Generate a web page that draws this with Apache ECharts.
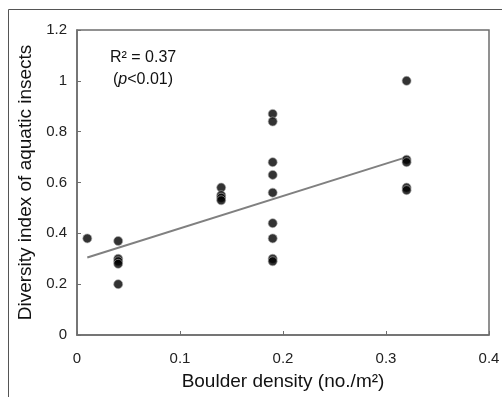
<!DOCTYPE html>
<html><head><meta charset="utf-8">
<script src="https://cdn.jsdelivr.net/npm/echarts@6/dist/echarts.min.js"></script>
<style>html,body{margin:0;padding:0;background:#fff}#c{width:502px;height:397px}</style>
</head><body><div id="c"></div>
<script>
var xTicks = [0, 0.1, 0.2, 0.3, 0.4];
var yTicks = [0, 0.2, 0.4, 0.6, 0.8, 1, 1.2];
var density = [0.01, 0.04, 0.04, 0.04, 0.04, 0.04, 0.14, 0.14, 0.14, 0.14, 0.19, 0.19, 0.19, 0.19, 0.19, 0.19, 0.19, 0.19, 0.19, 0.32, 0.32, 0.32, 0.32, 0.32];
var diversity = [0.38, 0.37, 0.30, 0.29, 0.28, 0.20, 0.58, 0.55, 0.54, 0.53, 0.87, 0.84, 0.68, 0.63, 0.56, 0.44, 0.38, 0.30, 0.29, 1.00, 0.69, 0.68, 0.58, 0.57];
var trendX = [0.01, 0.32];
var trendY = [0.305, 0.70];

var pts = density.map(function (x, i) { return [x, diversity[i]]; });
var trend = trendX.map(function (x, i) { return [x, trendY[i]]; });

var chart = echarts.init(document.getElementById('c'));
var font = 'Liberation Sans, Arial, sans-serif';
chart.setOption({
  animation: false,
  grid: { left: 77, right: 13, top: 30, bottom: 62, outerBoundsMode: 'none', containLabel: false, show: true, borderColor: '#6e6e6e', borderWidth: 1.5, backgroundColor: 'transparent' },
  xAxis: {
    type: 'value', min: 0, max: 0.4, interval: 0.1,
    axisLine: { show: true, onZero: false, lineStyle: { color: '#6e6e6e', width: 1.5 } },
    axisTick: { show: true, inside: true, length: 4, lineStyle: { color: '#6e6e6e' } },
    splitLine: { show: false },
    axisLabel: { color: '#222', fontFamily: font, fontSize: 15, margin: 16, formatter: function (v) { return String(v); } },
    name: 'Boulder density (no./m²)', nameLocation: 'middle', nameGap: 37,
    nameTextStyle: { color: '#111', fontFamily: font, fontSize: 19 }
  },
  yAxis: {
    type: 'value', min: 0, max: 1.2, interval: 0.2,
    axisLine: { show: true, lineStyle: { color: '#6e6e6e', width: 1.5 } },
    axisTick: { show: true, inside: true, length: 4, lineStyle: { color: '#6e6e6e' } },
    splitLine: { show: false },
    axisLabel: { color: '#222', fontFamily: font, fontSize: 15, margin: 10, formatter: function (v) { return String(+v.toFixed(1)); } },
    name: 'Diversity index of aquatic insects', nameLocation: 'middle', nameGap: 42,
    nameTextStyle: { color: '#111', fontFamily: font, fontSize: 19 }
  },
  graphic: [
    { type: 'rect', shape: { x: 8.5, y: 9.5, width: 600, height: 500 }, style: { fill: 'none', stroke: '#555', lineWidth: 1 }, silent: true },
    { type: 'text', left: 110, top: 50, style: { text: 'R² = 0.37', font: '16px ' + font, fill: '#111' } },
    { type: 'text', left: 113, top: 72, style: { text: '({i|p}<0.01)', font: '16px ' + font, fill: '#111', rich: { i: { fontStyle: 'italic', fontSize: 16, fontFamily: font, fill: '#111' } } } }
  ],
  series: [
    { type: 'line', data: trend, symbol: 'none', lineStyle: { color: '#808080', width: 2 }, z: 2 },
    { type: 'scatter', data: pts, symbol: 'circle', symbolSize: 9, itemStyle: { color: '#000', borderColor: '#aaa', borderWidth: 0.8 }, z: 3 }
  ]
});
</script></body></html>
